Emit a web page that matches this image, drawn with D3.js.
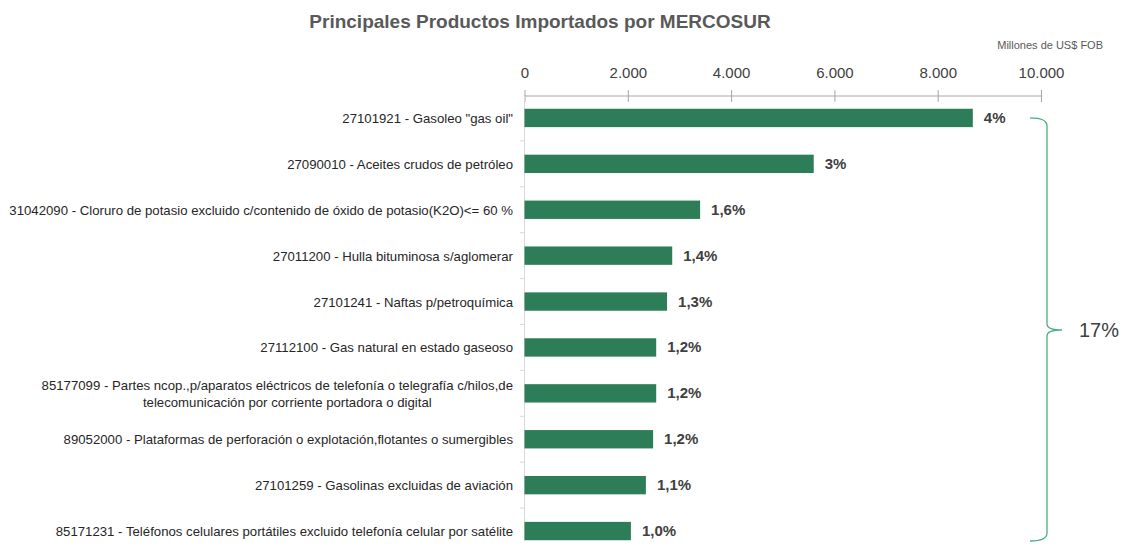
<!DOCTYPE html>
<html>
<head>
<meta charset="utf-8">
<script src="https://cdn.jsdelivr.net/npm/d3@7"></script>
<style>
  body { margin: 0; background: #fff; }
  svg { font-family: "Liberation Sans", Arial, sans-serif; }
</style>
</head>
<body>
<svg id="chart" width="1126" height="549"></svg>
<script>
// data (millones de US$ FOB)
var productos = [
    ['27101921 - Gasoleo "gas oil"'],
    ["27090010 - Aceites crudos de petróleo"],
    ["31042090 - Cloruro de potasio excluido c/contenido de óxido de potasio(K2O)<= 60 %"],
    ["27011200 - Hulla bituminosa s/aglomerar"],
    ["27101241 - Naftas p/petroquímica"],
    ["27112100 - Gas natural en estado gaseoso"],
    ["85177099 - Partes ncop.,p/aparatos eléctricos de telefonía o telegrafía c/hilos,de", "telecomunicación por corriente portadora o digital"],
    ["89052000 - Plataformas de perforación o explotación,flotantes o sumergibles"],
    ["27101259 - Gasolinas excluidas de aviación"],
    ["85171231 - Teléfonos celulares portátiles excluido telefonía celular por satélite"]
];
var valores = [8680, 5600, 3400, 2860, 2760, 2550, 2550, 2490, 2350, 2060];
var participacion = ["4%", "3%", "1,6%", "1,4%", "1,3%", "1,2%", "1,2%", "1,2%", "1,1%", "1,0%"];
var ticks = [0, 2000, 4000, 6000, 8000, 10000];
var total = "17%";

var svg = d3.select("#chart");

var x = d3.scaleLinear()
    .domain([0, 10000])
    .range([524.5, 1041]);

var y = d3.scaleBand()
    .domain(d3.range(productos.length))
    .range([95, 554])
    .paddingInner(0.6)
    .paddingOuter(0.3);

// title
svg.append("text")
    .attr("x", 540)
    .attr("y", 28)
    .attr("text-anchor", "middle")
    .attr("font-size", "19px")
    .attr("font-weight", "bold")
    .attr("fill", "#595959")
    .text("Principales Productos Importados por MERCOSUR");

svg.append("text")
    .attr("x", 1103)
    .attr("y", 49)
    .attr("text-anchor", "end")
    .attr("font-size", "11px")
    .attr("fill", "#595959")
    .text("Millones de US$ FOB");

// top axis
var xAxis = d3.axisTop(x)
    .tickValues(ticks)
    .tickSize(6)
    .tickFormat(function (d) { return d3.format(",")(d).replace(/,/g, "."); });

var gx = svg.append("g")
    .attr("transform", "translate(0,96)")
    .call(xAxis);
gx.select(".domain").attr("stroke", "#a6a6a6").attr("d", "M524.5,0H1041");
gx.selectAll(".tick line").attr("stroke", "#a6a6a6").attr("y1", 6).attr("y2", -6);
gx.selectAll(".tick text")
    .attr("y", -18)
    .attr("font-size", "15px")
    .attr("font-family", "Liberation Sans, sans-serif")
    .attr("fill", "#404040");

// left axis line with small ticks between categories
svg.append("line")
    .attr("x1", 524.5).attr("x2", 524.5)
    .attr("y1", 96).attr("y2", 541)
    .attr("stroke", "#d9d9d9");

svg.selectAll(".sep")
    .data(d3.range(1, productos.length))
    .enter()
    .append("line")
    .attr("class", "sep")
    .attr("x1", 520).attr("x2", 524.5)
    .attr("y1", function (d) { return y(d) - y.step() * y.paddingInner() / 2; })
    .attr("y2", function (d) { return y(d) - y.step() * y.paddingInner() / 2; })
    .attr("stroke", "#d9d9d9");

// bars
svg.selectAll(".bar")
    .data(valores)
    .enter()
    .append("rect")
    .attr("class", "bar")
    .attr("x", x(0))
    .attr("y", function (d, i) { return y(i); })
    .attr("width", function (d) { return x(d) - x(0); })
    .attr("height", y.bandwidth())
    .attr("fill", "#2e7d59");

// value labels
svg.selectAll(".pct")
    .data(valores)
    .enter()
    .append("text")
    .attr("class", "pct")
    .attr("x", function (d) { return x(d) + 11; })
    .attr("y", function (d, i) { return y(i) + y.bandwidth() / 2 + 5; })
    .attr("font-size", "15px")
    .attr("font-weight", "bold")
    .attr("fill", "#404040")
    .text(function (d, i) { return participacion[i]; });

// category labels
var labelX = 513;
var fs = "13.2px";
productos.forEach(function (lines, i) {
    var cy = y(i) + y.bandwidth() / 2;
    if (lines.length == 1) {
        svg.append("text")
            .attr("x", labelX)
            .attr("y", cy + 5)
            .attr("text-anchor", "end")
            .attr("font-size", fs)
            .attr("fill", "#262626")
            .text(lines[0]);
    } else {
        var t1 = svg.append("text")
            .attr("x", labelX)
            .attr("y", cy - 3)
            .attr("text-anchor", "end")
            .attr("font-size", fs)
            .attr("fill", "#262626")
            .text(lines[0]);
        var w = t1.node().getComputedTextLength();
        svg.append("text")
            .attr("x", labelX - w / 2 + 10)
            .attr("y", cy + 14)
            .attr("text-anchor", "middle")
            .attr("font-size", fs)
            .attr("fill", "#262626")
            .text(lines[1]);
    }
});

// brace
var bTop = y(0) + y.bandwidth() / 2, bBot = 541, bMid = 330, bx = 1047;
svg.append("path")
    .attr("d", "M1030," + bTop + " Q" + bx + "," + bTop + " " + bx + "," + (bTop + 8) +
        " L" + bx + "," + (bMid - 6) + " Q" + bx + "," + bMid + " 1062," + bMid +
        " Q" + bx + "," + bMid + " " + bx + "," + (bMid + 6) +
        " L" + bx + "," + (bBot - 8) + " Q" + bx + "," + bBot + " 1030," + bBot)
    .attr("fill", "none")
    .attr("stroke", "#4cae7e")
    .attr("stroke-width", 1.3);

svg.append("text")
    .attr("x", 1079)
    .attr("y", 337)
    .attr("font-size", "20px")
    .attr("fill", "#404040")
    .text(total);
</script>
</body>
</html>
